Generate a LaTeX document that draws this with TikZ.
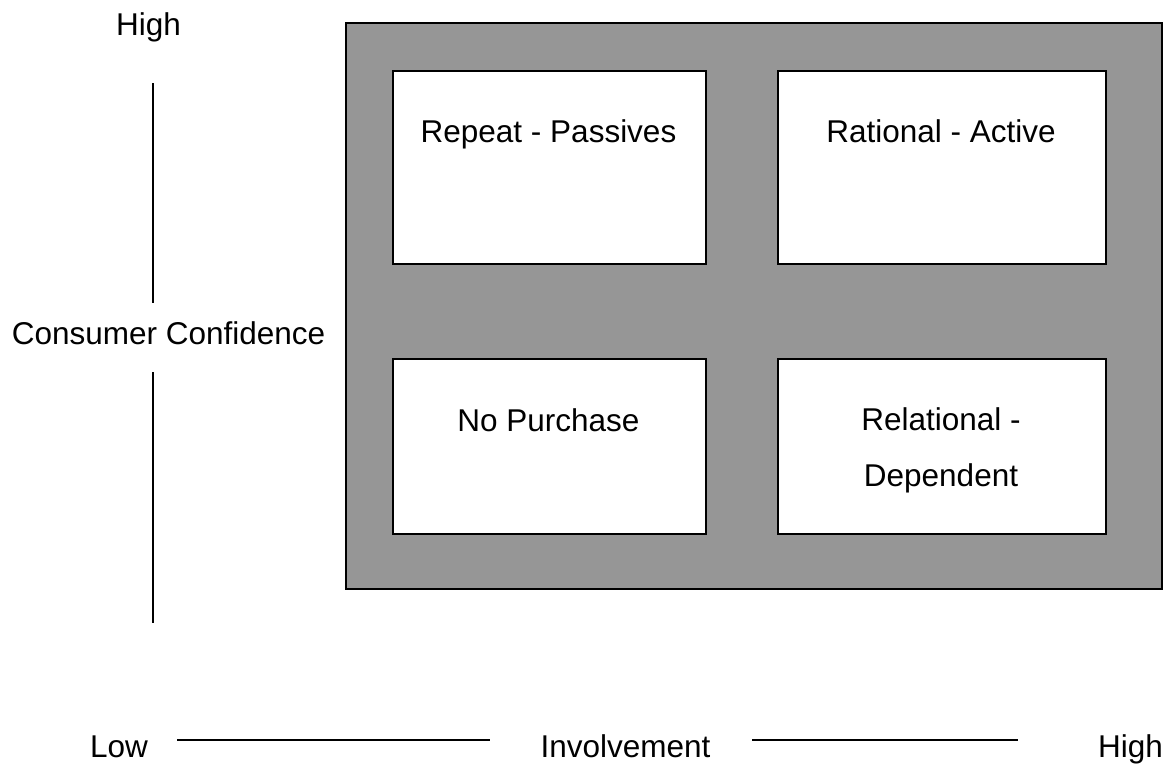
\documentclass[tikz,border=0pt]{standalone}
\usepackage{fontspec}
\setmainfont{Liberation Sans}
\definecolor{panelgray}{RGB}{150,150,150}
\begin{document}
\begin{tikzpicture}[x=1pt,y=-1pt,
  lbl/.style={font=\fontsize{31.5}{38}\selectfont, anchor=base, inner sep=0pt},
  cell/.style={draw=black, line width=1.8pt, fill=white, inner sep=0pt, anchor=north west},
  axisline/.style={draw=black, line width=1.8pt}]
\useasboundingbox (0,0) rectangle (1174,766);
% panel
\node[draw=black, line width=1.8pt, fill=panelgray, inner sep=0pt, anchor=north west,
      minimum width=816pt, minimum height=566pt] (panel) at (345,22) {};
% cells
\node[cell, minimum width=313pt, minimum height=193pt] (c11) at (392,70) {};
\node[cell, minimum width=328pt, minimum height=193pt] (c12) at (777,70) {};
\node[cell, minimum width=313pt, minimum height=175pt] (c21) at (392,358) {};
\node[cell, minimum width=328pt, minimum height=175pt] (c22) at (777,358) {};
% cell texts
\node[lbl] (t11) at (548.5,142) {Repeat - Passives};
\node[lbl] (t12) at (941,142) {Rational - Active};
\node[lbl] (t21) at (548.5,431) {No Purchase};
\node[lbl] (t22a) at (941,430) {Relational -};
\node[lbl] (t22b) at (941,486) {Dependent};
% vertical axis
\node[lbl] (vhigh) at (148.5,35) {High};
\node[lbl] (vlab) at (168.5,344) {Consumer Confidence};
\coordinate (v1) at (153,83);
\coordinate (v2) at (153,303);
\coordinate (v3) at (153,372);
\coordinate (v4) at (153,623);
\draw[axisline] (v1) -- (v2);
\draw[axisline] (v3) -- (v4);
% horizontal axis
\node[lbl] (hlow) at (119,757) {Low};
\node[lbl] (hlab) at (625.5,757) {Involvement};
\node[lbl] (hhigh) at (1130.5,757) {High};
\coordinate (h1) at (177,740);
\coordinate (h2) at (490,740);
\coordinate (h3) at (752,740);
\coordinate (h4) at (1018,740);
\draw[axisline] (h1) -- (h2);
\draw[axisline] (h3) -- (h4);
\end{tikzpicture}
\end{document}
